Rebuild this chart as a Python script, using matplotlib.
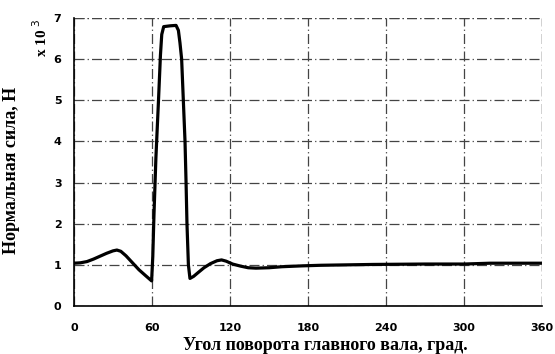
import matplotlib
matplotlib.use("Agg")
import matplotlib.pyplot as plt

angle = [0, 5, 10, 15, 20, 25, 30, 33, 36, 40, 45, 50, 55, 59.7,
         60.6, 61.5, 63, 65, 66.5, 67.5, 69, 74, 78.5, 80.3, 81.5, 82.8,
         84.1, 85.4, 86.2, 86.9, 88, 89.2, 92, 95, 100, 105, 110, 113.5,
         117, 122, 128, 134, 140, 150, 160, 175, 190, 230, 270, 300, 320, 360]
force = [1.04, 1.05, 1.08, 1.14, 1.21, 1.28, 1.34, 1.36, 1.33, 1.22, 1.05, 0.88, 0.74, 0.61,
         1.2, 2.2, 3.6, 5.0, 6.1, 6.6, 6.79, 6.81, 6.82, 6.7, 6.4, 6.0,
         5.0, 4.0, 3.0, 2.0, 1.0, 0.67, 0.72, 0.80, 0.93, 1.03, 1.10, 1.12,
         1.09, 1.02, 0.97, 0.93, 0.92, 0.93, 0.955, 0.975, 0.99, 1.01, 1.02, 1.02, 1.04, 1.04]

xticks = [0, 60, 120, 180, 240, 300, 360]
yticks = [0, 1, 2, 3, 4, 5, 6, 7]

fig = plt.figure(figsize=(5.55, 3.54), dpi=100)
ax = fig.add_axes([74/555, 48/354, 468/555, 288/354])

ax.plot(angle, force, color="black", lw=2.3, solid_joinstyle="round")

ax.set_xlim(0, 360)
ax.set_ylim(0, 7)
ax.set_xticks(xticks)
ax.set_yticks(yticks)
gls = (0, (8, 2.5, 1, 2.5))
ax.grid(True, color="#444444", linestyle=gls, linewidth=0.9)
ax.axhline(7, color="#444444", linestyle=gls, linewidth=0.9)
ax.axvline(360, color="#444444", linestyle=gls, linewidth=0.9)
for s in ["top", "right"]:
    ax.spines[s].set_visible(False)
for s in ["left", "bottom"]:
    ax.spines[s].set_linewidth(1.2)
ax.tick_params(length=0, labelsize=8)
ax.tick_params(axis="x", pad=12)
ax.tick_params(axis="y", pad=9)
for lab in ax.get_xticklabels() + ax.get_yticklabels():
    lab.set_fontweight("bold")
    lab.set_family("DejaVu Sans")

ax.set_xlabel("Угол поворота главного вала, град.", family="Liberation Serif",
              fontweight="bold", fontsize=13)
ax.xaxis.set_label_coords(0.536, -0.108)
ax.set_ylabel("Нормальная сила, Н", family="Liberation Serif",
              fontweight="bold", fontsize=13)
ax.yaxis.set_label_coords(-0.115, 0.472)

fig.text(41/555, 1 - 38/354, r"x 10$^{\ 3}$", rotation=90, ha="center", va="center",
         family="Liberation Serif", fontweight="bold", fontsize=11)

fig.savefig("out.png", dpi=100)
